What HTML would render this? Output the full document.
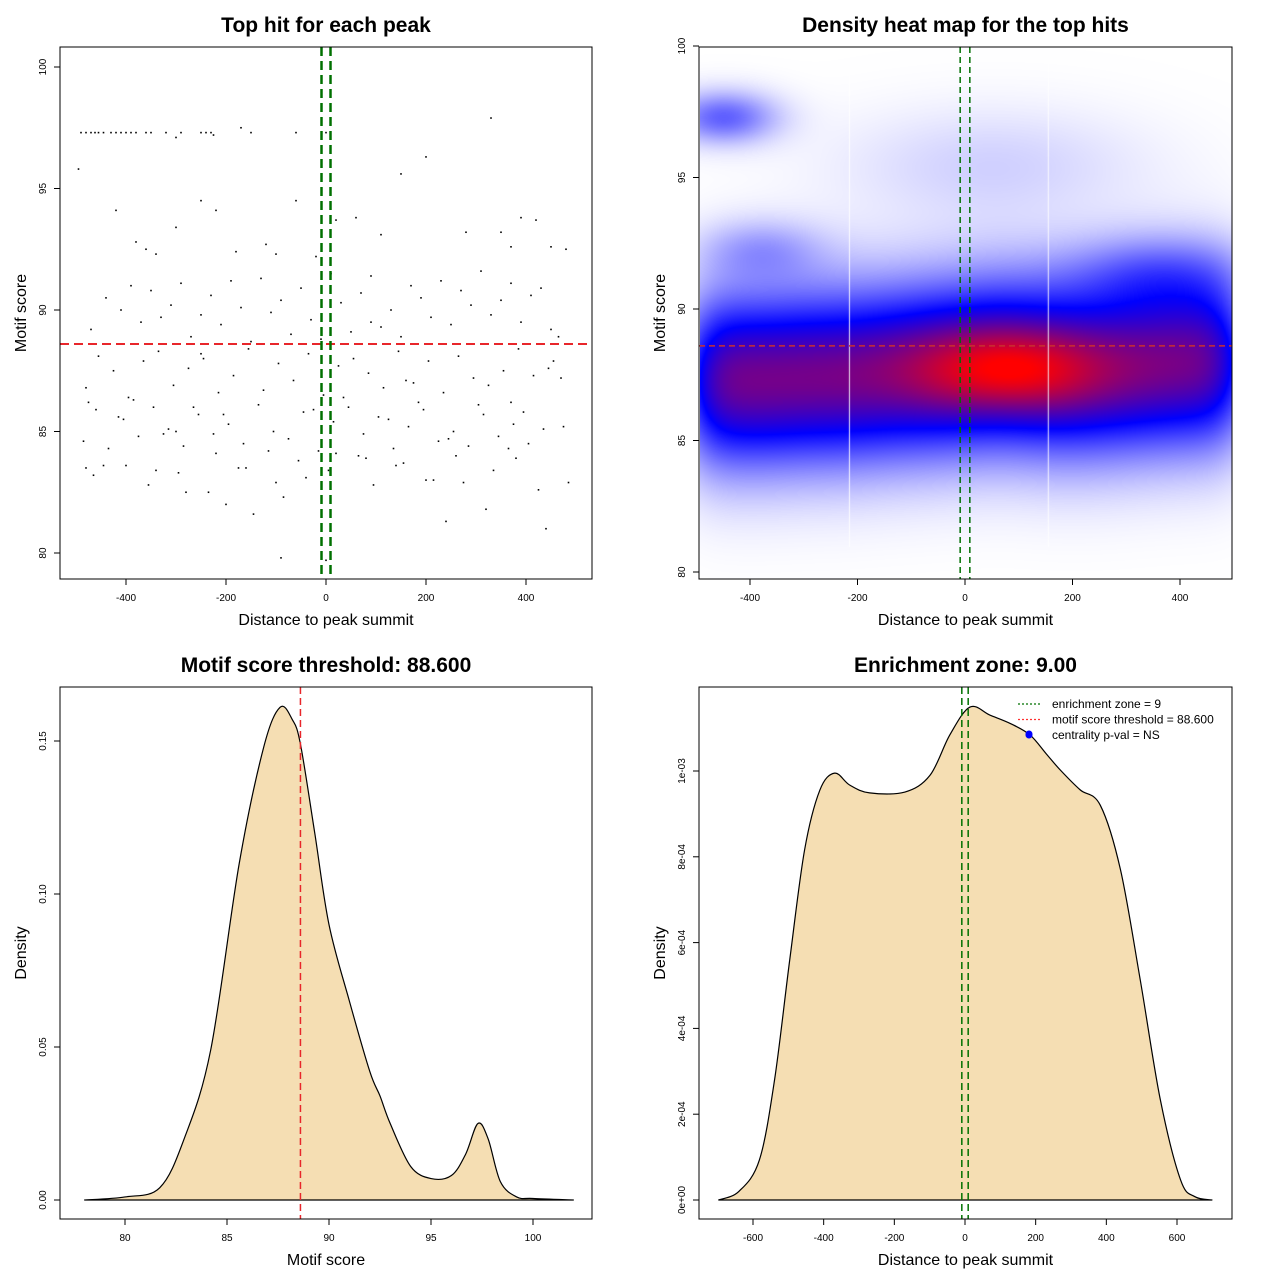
<!DOCTYPE html>
<html><head><meta charset="utf-8">
<style>
body{margin:0;background:#fff;width:1280px;height:1280px;position:relative;overflow:hidden;font-family:"Liberation Sans",sans-serif}
#heat{position:absolute;left:700px;top:48px}
#svg{position:absolute;left:0;top:0}
text{font-family:"Liberation Sans",sans-serif}
</style></head><body>
<canvas id="heat" width="532" height="531"></canvas>
<svg id="svg" width="1280" height="1280" xmlns="http://www.w3.org/2000/svg"></svg>
<script>
// ---------- data ----------
const scatterDist = [-490,-480,-470,-462,-455,-445,-430,-420,-410,-400,-390,-380,-360,-350,-320,-300,-290,-250,-240,-230,-225,-170,-150,-60,0,
 -495,-420,-380,-360,-340,-300,-250,-220,-180,-120,-100,-60,-20,20,60,110,150,200,280,330,350,370,390,420,450,480,
 -470,-440,-410,-390,-370,-350,-330,-310,-290,-270,-250,-230,-210,-190,-170,-150,-130,-110,-90,-70,-50,-30,-10,10,30,50,70,90,110,130,150,170,190,210,230,250,270,290,310,330,350,370,390,410,430,450,470,
 -480,-455,-425,-395,-365,-335,-305,-275,-245,-215,-185,-155,-125,-95,-65,-35,-5,25,55,85,115,145,175,205,235,265,295,325,355,385,415,445,475,
 -485,-460,-435,-405,-375,-345,-315,-285,-255,-225,-195,-165,-135,-105,-75,-45,-15,15,45,75,105,135,165,195,225,255,285,315,345,375,405,435,465,
 -475,-445,-415,-385,-355,-325,-295,-265,-235,-205,-175,-145,-115,-85,-55,-25,5,35,65,95,125,155,185,215,245,275,305,335,365,395,425,455,485,
 -465,-400,-340,-280,-220,-160,-100,-40,20,80,140,200,260,320,380,440,
 -480,-300,-200,-90,0,240,370,-250,90,160,330];
const scatterScore = [97.3,97.3,97.3,97.3,97.3,97.3,97.3,97.3,97.3,97.3,97.3,97.3,97.3,97.3,97.3,97.1,97.3,97.3,97.3,97.3,97.2,97.5,97.3,97.3,97.3,
 95.8,94.1,92.8,92.5,92.3,93.4,94.5,94.1,92.4,92.7,92.3,94.5,92.2,93.7,93.8,93.1,95.6,96.3,93.2,97.9,93.2,92.6,93.8,93.7,92.6,92.5,
 89.2,90.5,90.0,91.0,89.5,90.8,89.7,90.2,91.1,88.9,89.8,90.6,89.4,91.2,90.1,88.7,91.3,89.9,90.4,89.0,90.9,89.6,88.8,91.5,90.3,89.1,90.7,91.4,89.3,90.0,88.9,91.0,90.5,89.7,91.2,89.4,90.8,90.2,91.6,89.8,90.4,91.1,89.5,90.6,90.9,89.2,
 87.2,86.8,88.1,87.5,86.4,87.9,88.3,86.9,87.6,88.0,86.6,87.3,88.4,86.7,87.8,87.1,88.2,86.5,87.7,88.0,87.4,86.8,88.3,87.0,87.9,86.6,88.1,87.2,86.9,87.5,88.4,87.3,87.6,
 85.2,84.6,85.9,84.3,85.5,84.8,86.0,85.1,84.4,85.7,84.9,85.3,84.5,86.1,85.0,84.7,85.8,84.2,85.4,86.0,84.9,85.6,84.3,85.2,85.9,84.6,85.0,84.4,85.7,84.8,85.3,84.5,85.1,
 88.9,86.2,83.6,85.6,86.3,82.8,84.9,83.3,86.0,82.5,85.7,83.5,81.6,84.2,82.3,83.8,85.9,83.4,86.4,84.0,82.8,85.5,83.7,86.2,83.0,84.7,82.9,86.1,83.4,84.3,85.8,82.6,87.9,
 82.9,83.2,83.6,83.4,82.5,84.1,83.5,82.9,83.1,84.1,83.9,83.6,83.0,84.0,81.8,83.9,
 81.0,83.5,85.0,82.0,79.8,79.7,81.3,86.2,88.2,89.5,87.1];
// score density
const densX = [78,80,81.7,82.9,84.2,85.6,86.8,87.6,88.2,88.6,89.3,90,91,92,92.5,93,94,95,96,96.7,97.3,97.8,98.4,99.2,100,102];
const densY = [0,0.001,0.004,0.02,0.049,0.11,0.148,0.161,0.157,0.149,0.12,0.09,0.065,0.042,0.034,0.025,0.011,0.007,0.008,0.015,0.025,0.02,0.006,0.001,0.0005,0];
// distance density (x1e-3)
const distX = [-698,-640,-582,-539,-496,-454,-411,-369,-326,-270,-170,-99,-43,14,71,130,184,230,270,326,383,440,496,553,610,650,700];
const distY = [0,0.02,0.093,0.28,0.56,0.816,0.955,0.995,0.967,0.949,0.951,0.99,1.084,1.149,1.13,1.11,1.084,1.04,1.002,0.956,0.92,0.77,0.513,0.233,0.047,0.008,0];
// heatmap kernel blobs
const blobX = [-480,-420,-360,-300,-240,-180,-120,-60,0,60,120,180,240,300,360,420,480, 80,-450,-380,350,50];
const blobY = [87.3,87.3,87.3,87.4,87.4,87.5,87.6,87.7,87.8,87.9,87.8,87.7,87.7,87.8,87.9,88.0,88.0, 87.7,97.3,92.3,91.5,95.5];
const blobW = [0.36,0.36,0.36,0.36,0.36,0.36,0.36,0.37,0.37,0.37,0.37,0.37,0.36,0.36,0.36,0.36,0.36, 0.27,0.28,0.14,0.15,0.08];
const blobSX = [45,45,45,45,45,45,45,45,45,45,45,45,45,45,45,45,45, 120,70,80,120,200];
const blobSY = [2.3,2.3,2.3,2.3,2.3,2.3,2.3,2.3,2.3,2.3,2.3,2.3,2.3,2.3,2.3,2.3,2.3, 1.1,0.7,0.8,1.0,1.5];
const threshold = 88.6, zone = 9;

// ---------- helpers ----------
const NS='http://www.w3.org/2000/svg';
const svg=document.getElementById('svg');
function mk(tag,attrs,parent){const e=document.createElementNS(NS,tag);for(const k in attrs)e.setAttribute(k,attrs[k]);(parent||svg).appendChild(e);return e;}
function lin(d0,d1,r0,r1){return v=>r0+(v-d0)/(d1-d0)*(r1-r0);}
function panel(name,box,title,xlab,ylab,xt,xs,yt,ys,ylabels){
  const g=mk('g',{});
  
  
  const t=mk('text',{x:(box[0]+box[2])/2,y:box[1]-15,'text-anchor':'middle','font-size':'21','font-weight':'bold'},g);
  t.textContent=title;
  
  
  const xl=mk('text',{x:(box[0]+box[2])/2,y:box[3]+46,'text-anchor':'middle','font-size':'16'},g);
  xl.textContent=xlab;
  
  
  const yc=(box[1]+box[3])/2;
  const yl=mk('text',{x:box[0]-39,y:yc+5,'text-anchor':'middle','font-size':'16',transform:`rotate(-90 ${box[0]-39} ${yc})`},g);
  yl.textContent=ylab;
  
  
  const xa=mk('g',{},g);
  
  
  xt.forEach(v=>{const x=xs(v);mk('line',{x1:x,x2:x,y1:box[3],y2:box[3]+6,stroke:'#000'},xa);
    const tt=mk('text',{x:x,y:box[3]+22,'text-anchor':'middle','font-size':'10'},xa);tt.textContent=v;});
  const ya=mk('g',{},g);
  
  
  yt.forEach((v,i)=>{const y=ys(v);mk('line',{x1:box[0]-6,x2:box[0],y1:y,y2:y,stroke:'#000'},ya);
    const tx=box[0]-14;const tt=mk('text',{x:tx,y:y,'text-anchor':'middle','font-size':'10',transform:`rotate(-90 ${tx} ${y})`},ya);tt.textContent=ylabels?ylabels[i]:v;});
  return g;
}
function frame(box){const r=mk('rect',{x:box[0],y:box[1],width:box[2]-box[0],height:box[3]-box[1],fill:'none',stroke:'#000'});
  }
function smoothPath(xs,ys,X,Y){let d=`M${X(xs[0])},${Y(ys[0])}`;
  const P=xs.map((x,i)=>[X(x),Y(ys[i])]);
  for(let i=0;i<P.length-1;i++){const p0=P[Math.max(0,i-1)],p1=P[i],p2=P[i+1],p3=P[Math.min(P.length-1,i+2)];
    d+=` C${p1[0]+(p2[0]-p0[0])/6},${p1[1]+(p2[1]-p0[1])/6} ${p2[0]-(p3[0]-p1[0])/6},${p2[1]-(p3[1]-p1[1])/6} ${p2[0]},${p2[1]}`;}
  return d;}

// ---------- panel 1 ----------
{const box=[60,47,592,579];const X=lin(0,400,326,526),Y=lin(80,100,553,67);
 panel('scatter-panel',box,'Top hit for each peak','Distance to peak summit','Motif score',[-400,-200,0,200,400],X,[80,85,90,95,100],Y);
 const g=mk('g',{});
 scatterDist.forEach((d,i)=>{if(scatterScore[i]===undefined)return;mk('rect',{x:X(d)-0.8,y:Y(scatterScore[i])-0.8,width:1.6,height:1.6,fill:'#000'},g);});
 mk('line',{x1:box[0],x2:box[2],y1:Y(threshold),y2:Y(threshold),stroke:'#e8262b','stroke-width':2,'stroke-dasharray':'9,5'});
 [-zone,zone].forEach(z=>{const l=mk('line',{x1:X(z),x2:X(z),y1:box[1],y2:box[3],stroke:'#007000','stroke-width':2.5,'stroke-dasharray':'9,5'});});
 frame(box);}

// ---------- panel 2 heatmap ----------
{const box=[699,47,1232,579];const X=lin(0,400,965,1180),Y=lin(80,100,572,46);
 const c=document.getElementById('heat'),ctx=c.getContext('2d');const W=c.width,H=c.height;
 const img=ctx.createImageData(W,H);
 for(let py=0;py<H;py++){const yv=80+(572-(py+48))/26.3;for(let px=0;px<W;px++){const xv=(px+700-965)/0.5375;let s=0;
   for(let k=0;k<blobX.length;k++){const dx=(xv-blobX[k])/blobSX[k],dy=(yv-blobY[k])/blobSY[k];s+=blobW[k]*Math.exp(-0.5*(dx*dx+dy*dy));}
   const t=s;let r,g,b;
   if(t<0.45){const u=t/0.45;r=255*(1-u);g=255*(1-u);b=255;}
   else{const u=Math.min(1,(t-0.45)/0.5);r=255*u;g=0;b=255*(1-u);}
   const i=py*W+px;img.data[i*4]=r;img.data[i*4+1]=g;img.data[i*4+2]=b;img.data[i*4+3]=255;}}
 ctx.putImageData(img,0,0);
 ctx.strokeStyle='rgba(255,255,255,0.9)';ctx.lineWidth=1;[-215,155].forEach(v=>{const x=X(v)-700;ctx.beginPath();ctx.moveTo(x,0);ctx.lineTo(x,H*0.94);ctx.stroke();});
 panel('heatmap-panel',box,'Density heat map for the top hits','Distance to peak summit','Motif score',[-400,-200,0,200,400],X,[80,85,90,95,100],Y);
 mk('line',{x1:box[0],x2:box[2],y1:Y(threshold),y2:Y(threshold),stroke:'#c83030','stroke-width':1.5,'stroke-dasharray':'6,4'});
 [-zone,zone].forEach(z=>{const l=mk('line',{x1:X(z),x2:X(z),y1:box[1],y2:box[3],stroke:'#007000','stroke-width':1.5,'stroke-dasharray':'6,4'});});
 frame(box);}

// ---------- panel 3 ----------
{const box=[60,687,592,1219];const X=lin(80,100,125,533),Y=lin(0,0.15,1200,741);
 panel('score-density-panel',box,'Motif score threshold: 88.600','Motif score','Density',[80,85,90,95,100],X,[0,0.05,0.1,0.15],Y,['0.00','0.05','0.10','0.15']);
 const d=smoothPath(densX,densY,X,Y);
 const p=mk('path',{d:d+` L${X(densX[densX.length-1])},${Y(0)} L${X(densX[0])},${Y(0)} Z`,fill:'#f5deb3',stroke:'#000','stroke-width':1.2});
 
 mk('line',{x1:X(threshold),x2:X(threshold),y1:box[1],y2:box[3],stroke:'#e8262b','stroke-width':1.5,'stroke-dasharray':'7,4'});
 frame(box);}

// ---------- panel 4 ----------
{const box=[699,687,1232,1219];const X=lin(0,600,965,1177),Y=lin(0,1,1200,771);
 panel('distance-density-panel',box,'Enrichment zone: 9.00','Distance to peak summit','Density',[-600,-400,-200,0,200,400,600],X,[0,0.2,0.4,0.6,0.8,1.0],Y,['0e+00','2e-04','4e-04','6e-04','8e-04','1e-03']);
 const d=smoothPath(distX,distY,X,Y);
 const p=mk('path',{d:d+' Z',fill:'#f5deb3',stroke:'#000','stroke-width':1.2});
 
 [-zone,zone].forEach(z=>{const l=mk('line',{x1:X(z),x2:X(z),y1:box[1],y2:box[3],stroke:'#007000','stroke-width':1.5,'stroke-dasharray':'7,4'});});
 const dot=mk('circle',{cx:1029,cy:734,r:3.5,fill:'#0000ff'});
 const lg=mk('g',{});
 const items=[['enrichment zone = 9','#007000','line'],['motif score threshold = 88.600','#ff3030','line'],['centrality p-val = NS','#0000ff','dot']];
 items.forEach((it,i)=>{const y=704+i*15.5;
   if(it[2]=='line')mk('line',{x1:1018,x2:1042,y1:y,y2:y,stroke:it[1],'stroke-width':1.2,'stroke-dasharray':'2,2'},lg);
   else mk('circle',{cx:1029,cy:y,r:3.5,fill:it[1]},lg);
   const t=mk('text',{x:1052,y:y+4,'font-size':'12'},lg);t.textContent=it[0];});
 frame(box);}
</script>
</body></html>
